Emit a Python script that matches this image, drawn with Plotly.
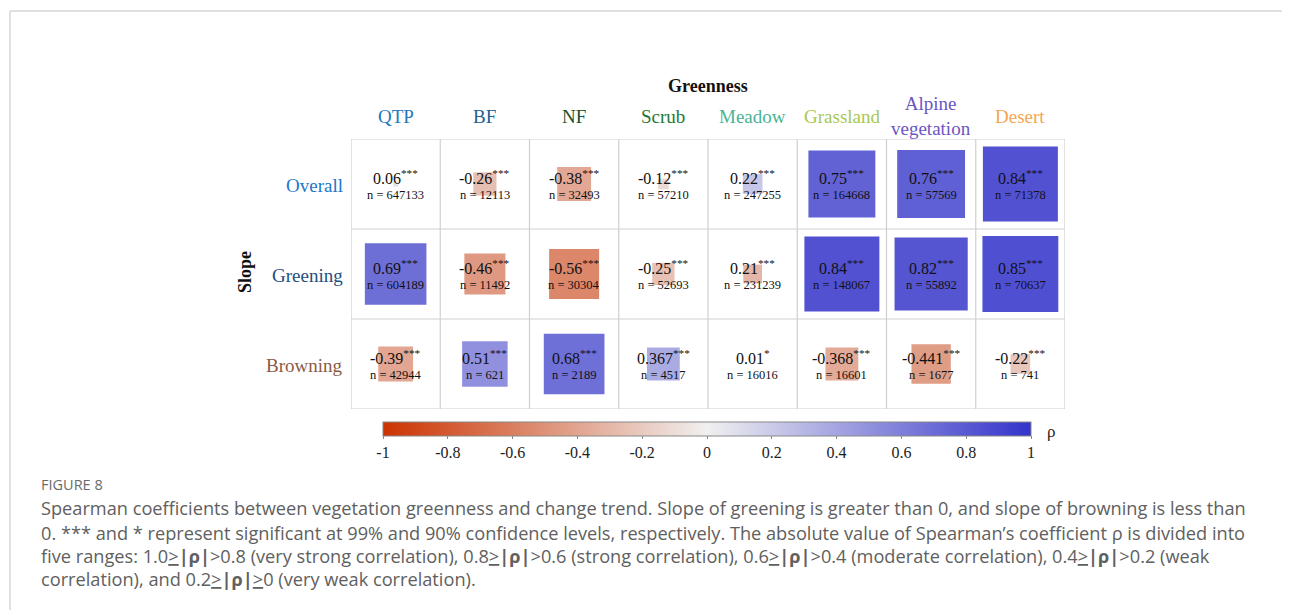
import plotly.graph_objects as go

PAGE_W, PAGE_H = 1290, 610
OFF = 8  # browser body margin
W, H = PAGE_W - OFF, PAGE_H - OFF

columns = ["QTP", "BF", "NF", "Scrub", "Meadow", "Grassland", "Alpine vegetation", "Desert"]
column_colors = ["#2277bd", "#245f8f", "#1c4f2c", "#1f7a35", "#4bb394", "#a9c752", "#6a55c2", "#f5a653"]
rows = ["Overall", "Greening", "Browning"]
row_colors = ["#2277c6", "#1f4f7f", "#8c5a48"]

rho_overall = [0.06, -0.26, -0.38, -0.12, 0.22, 0.75, 0.76, 0.84]
rho_greening = [0.69, -0.46, -0.56, -0.25, 0.21, 0.84, 0.82, 0.85]
rho_browning = [-0.39, 0.51, 0.68, 0.367, 0.01, -0.368, -0.441, -0.22]

n_overall = [647133, 12113, 32493, 57210, 247255, 164668, 57569, 71378]
n_greening = [604189, 11492, 30304, 52693, 231239, 148067, 55892, 70637]
n_browning = [42944, 621, 2189, 4517, 16016, 16601, 1677, 741]

sig_overall = ["***"] * 8
sig_greening = ["***"] * 8
sig_browning = ["***", "***", "***", "***", "*", "***", "***", "***"]

# colour value shown in the original figure (Greening/Meadow square is drawn in the negative colour)
fill_greening = [0.69, -0.46, -0.56, -0.25, -0.3, 0.84, 0.82, 0.85]

cbar_ticks = [-1, -0.8, -0.6, -0.4, -0.2, 0, 0.2, 0.4, 0.6, 0.8, 1]
cbar_text = ["-1", "-0.8", "-0.6", "-0.4", "-0.2", "0", "0.2", "0.4", "0.6", "0.8", "1"]

rho_rows = [rho_overall, rho_greening, rho_browning]
n_rows = [n_overall, n_greening, n_browning]
sig_rows = [sig_overall, sig_greening, sig_browning]
fill_rows = [rho_overall, fill_greening, rho_browning]


def px(x):
    return (x - OFF) / W


def py(y):
    return 1 - (y - OFF) / H


GX0, GX1, GY0, GY1 = 351, 1065, 139, 409
CELL = (GX1 - GX0) / len(columns)
SERIF = "Liberation Serif"

xs, ys, cs, ss = [], [], [], []
for r, row in enumerate(rows):
    for c, col in enumerate(columns):
        xs.append(c)
        ys.append(r)
        cs.append(fill_rows[r][c])
        ss.append(abs(rho_rows[r][c]) * CELL)

fig = go.Figure()
fig.add_trace(go.Scatter(
    x=xs, y=ys, mode="markers", hoverinfo="skip",
    marker=dict(
        symbol="square", size=ss, color=cs, opacity=1,
        colorscale=[[0, "rgb(204,51,0)"], [0.5, "rgb(240,240,240)"], [1, "rgb(51,51,204)"]],
        cmin=-1, cmax=1, line=dict(width=0),
        showscale=True,
        colorbar=dict(
            orientation="h", x=px(707), xanchor="center", y=py(422), yanchor="top",
            len=648, lenmode="pixels", thickness=14, thicknessmode="pixels",
            xpad=0, ypad=0, outlinewidth=1, outlinecolor="#888",
            ticks="outside", ticklen=3, tickcolor="#888",
            tickvals=cbar_ticks, ticktext=cbar_text,
            tickfont=dict(family=SERIF, size=16, color="#222"),
        ),
    ),
))

fig.update_xaxes(domain=[px(GX0), px(GX1)], range=[-0.5, len(columns) - 0.5],
                 visible=False, fixedrange=True)
fig.update_yaxes(domain=[py(GY1), py(GY0)], range=[len(rows) - 0.5, -0.5],
                 visible=False, fixedrange=True)

shapes = []
grid_col = "#cfcfcf"
for i in range(len(columns) + 1):
    shapes.append(dict(type="line", xref="x", yref="y", x0=i - 0.5, x1=i - 0.5,
                       y0=-0.5, y1=len(rows) - 0.5, line=dict(color=grid_col, width=1.2), layer="below"))
for j in range(len(rows) + 1):
    shapes.append(dict(type="line", xref="x", yref="y", x0=-0.5, x1=len(columns) - 0.5,
                       y0=j - 0.5, y1=j - 0.5, line=dict(color=grid_col, width=1.2), layer="below"))
# page frame
shapes.append(dict(type="line", xref="paper", yref="paper", x0=px(10), x1=1, y0=py(11), y1=py(11),
                   line=dict(color="#d6d6d6", width=1.5)))
shapes.append(dict(type="line", xref="paper", yref="paper", x0=px(10), x1=px(10), y0=py(11), y1=0,
                   line=dict(color="#d6d6d6", width=1.5)))

ann = []
ann.append(dict(text="<b>Greenness</b>", x=px(708), y=py(86), xref="paper", yref="paper",
                xanchor="center", yanchor="middle",
                showarrow=False, font=dict(family=SERIF, size=18, color="#111")))
for c, col in enumerate(columns):
    label = col.replace(" ", "<br>")
    ann.append(dict(text=label, x=c, y=py(116), xref="x", yref="paper", showarrow=False,
                    xanchor="center", yanchor="middle",
                    font=dict(family=SERIF, size=19, color=column_colors[c])))
for r, row in enumerate(rows):
    ann.append(dict(text=row, x=px(345), y=r, xref="paper", yref="y", xanchor="right", yanchor="middle",
                    yshift=-1, showarrow=False, font=dict(family=SERIF, size=19, color=row_colors[r])))
ann.append(dict(text="<b>Slope</b>", x=px(245), y=py(272), xref="paper", yref="paper", textangle=-90,
                xanchor="center", yanchor="middle",
                showarrow=False, font=dict(family=SERIF, size=18, color="#111")))
ann.append(dict(text="ρ", x=px(1051), y=py(431), xref="paper", yref="paper",
                xanchor="center", yanchor="middle",
                showarrow=False, font=dict(family=SERIF, size=17, color="#222")))

for r in range(len(rows)):
    for c in range(len(columns)):
        ann.append(dict(text=f"{rho_rows[r][c]}<sup>{sig_rows[r][c]}</sup>", x=c, y=r, xref="x", yref="y",
                        xanchor="center", yanchor="middle",
                        yshift=7, showarrow=False, font=dict(family=SERIF, size=16, color="#111")))
        ann.append(dict(text=f"n = {n_rows[r][c]}", x=c, y=r, xref="x", yref="y",
                        xanchor="center", yanchor="middle",
                        yshift=-11, showarrow=False, font=dict(family=SERIF, size=12.5, color="#111")))

SANS = "Open Sans"
ann.append(dict(text="FIGURE 8", x=px(39), y=py(484), xref="paper", yref="paper",
                xanchor="left", yanchor="middle",
                showarrow=False, font=dict(family=SANS, size=14.5, color="#6b6b6b")))
caption_lines = [
    "Spearman coefficients between vegetation greenness and change trend. Slope of greening is greater than 0, and slope of browning is less than",
    "0. *** and * represent significant at 99% and 90% confidence levels, respectively. The absolute value of Spearman’s coefficient ρ is divided into",
    "five ranges: 1.0<u>&gt;</u><b>|ρ|</b>&gt;0.8 (very strong correlation), 0.8<u>&gt;</u><b>|ρ|</b>&gt;0.6 (strong correlation), 0.6<u>&gt;</u><b>|ρ|</b>&gt;0.4 (moderate correlation), 0.4<u>&gt;</u><b>|ρ|</b>&gt;0.2 (weak",
    "correlation), and 0.2<u>&gt;</u><b>|ρ|</b><u>&gt;</u>0 (very weak correlation).",
]
caption_y = [508, 533, 556, 579]
for line, yy in zip(caption_lines, caption_y):
    ann.append(dict(text=line, x=px(39), y=py(yy), xref="paper", yref="paper",
                    xanchor="left", yanchor="middle",
                    showarrow=False, font=dict(family=SANS, size=18.2, color="#606060")))

fig.update_layout(width=W, height=H, margin=dict(l=0, r=0, t=0, b=0),
                  paper_bgcolor="white", plot_bgcolor="white", showlegend=False,
                  shapes=shapes, annotations=ann)

fig.write_html("out.html")
